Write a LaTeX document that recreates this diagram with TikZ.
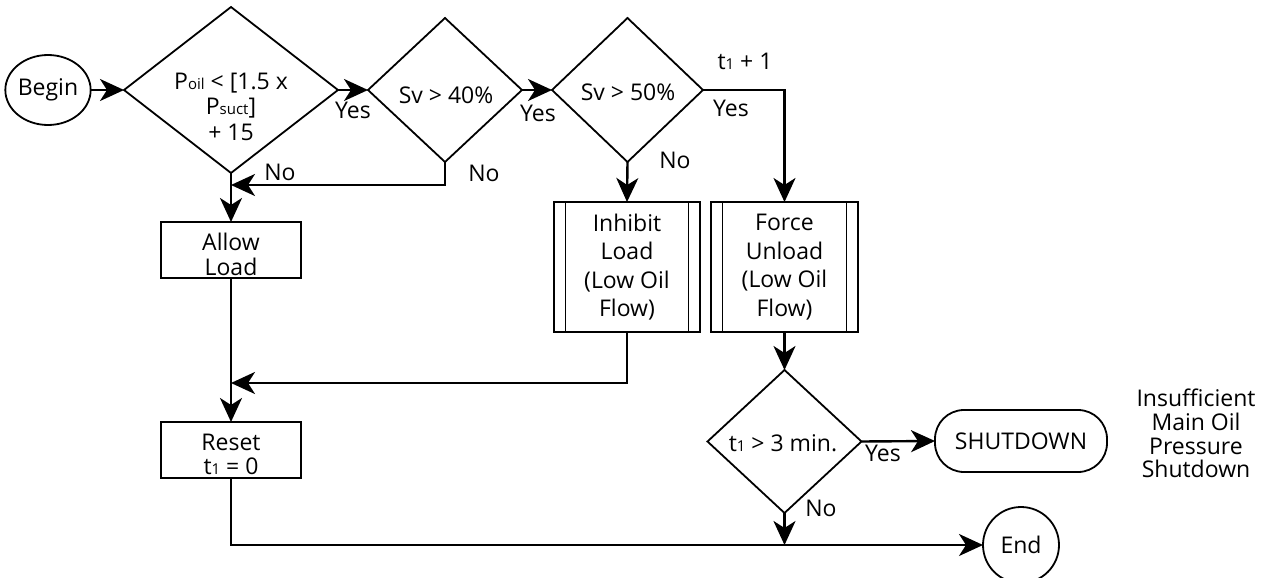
\documentclass[tikz,border=0pt]{standalone}
\usepackage{fontspec}
\setmainfont{Open Sans}
\usetikzlibrary{shapes.geometric,arrows.meta}
\newcommand{\subtx}[1]{{\fontsize{15}{15}\selectfont #1}}
\begin{document}
\begin{tikzpicture}[x=1pt,y=-1pt,
    font=\fontsize{23}{25.5}\selectfont,
    arr/.style={-{Stealth[length=24pt,width=22pt,inset=7pt]},line width=2.4pt},
    frame/.style={draw,line width=1.8pt,inner sep=0pt,outer sep=0pt},
    box/.style={frame,rectangle,minimum width=140pt,minimum height=56pt},
    subbox/.style={frame,rectangle,minimum height=130pt,align=center,font=\fontsize{23}{28.5}\selectfont},
    dia/.style={frame,diamond},
    txt/.style={align=center,inner sep=0pt},
    lbl/.style={anchor=base,inner sep=0pt}]
    \useasboundingbox[fill=white] (0,0) rectangle (1261,578);
    \node[frame,ellipse,minimum width=81pt,minimum height=70pt] (begin) at (48,90) {Begin};
    \node[dia,minimum width=214pt,minimum height=166pt] (q1) at (231,90) {};
    \node[txt] (q1txt) at (231,106.5) {P\subtx{oil} < [1.5 x\\P\subtx{suct}]\\+ 15};
    \node[dia,minimum width=154pt,minimum height=144pt] (q2) at (445,90) {};
    \node[lbl] (q2txt) at (446,103) {Sv > 40\%};
    \node[dia,minimum width=151pt,minimum height=144pt] (q3) at (627.5,90) {};
    \node[lbl] (q3txt) at (628,100) {Sv > 50\%};
    \node[box] (allow) at (231,250) {};
    \node[txt] (allowtxt) at (231,254.5) {Allow\\Load};
    \node[box] (reset) at (231,450) {};
    \node[txt,font=\fontsize{23}{24}\selectfont] (resettxt) at (231,454) {Reset\\t\subtx{1} = 0};
    \node[subbox,minimum width=146pt] (inhibit) at (627,267) {Inhibit\\Load\\(Low Oil\\Flow)};
    \node[subbox,minimum width=147pt] (force) at (784.5,267) {Force\\Unload\\(Low Oil\\Flow)};
    \foreach \n in {inhibit,force}{
        \draw[line width=1.8pt] ([xshift=11.5pt]\n.north west) -- ([xshift=11.5pt]\n.south west);
        \draw[line width=1.8pt] ([xshift=-11.5pt]\n.north east) -- ([xshift=-11.5pt]\n.south east);
    }
    \node[dia,minimum width=154pt,minimum height=143pt] (q4) at (784.5,441.5) {};
    \node[lbl] (q4txt) at (783,451.7) {t\subtx{1} > 3 min.};
    \node[frame,rounded corners=29pt,minimum width=172pt,minimum height=62pt] (shut) at (1021,441) {SHUTDOWN};
    \node[frame,circle,minimum size=76pt] (end) at (1021,545) {End};
    \node[txt,font=\fontsize{23}{23.7}\selectfont] (insuff) at (1196,433.5) {Insufficient\\Main Oil\\Pressure\\Shutdown};
    \coordinate (j1) at (231,185);
    \coordinate (j2) at (231,383);
    \draw[arr] (begin.east) -- (q1.west);
    \draw[arr] (q1.east) -- (q2.west);
    \draw[arr] (q2.east) -- (q3.west);
    \draw[arr] (q3.east) -| (force.north);
    \draw[arr] (q3.south) -- (inhibit.north);
    \draw[arr] (q2.south) |- (j1);
    \draw[arr] (q1.south) -- (allow.north);
    \draw[arr] (inhibit.south) |- (j2);
    \draw[arr] (allow.south) -- (reset.north);
    \draw[arr] (reset.south) |- (end.west);
    \draw[arr] (force.south) -- (q4.north);
    \draw[arr] (q4.east) -- (shut.west);
    \draw[arr] (q4.south) -- (q4.south |- end.west);
    \node[lbl] (yes1) at (353,118) {Yes};
    \node[lbl] (no1) at (280,180) {No};
    \node[lbl] (yes2) at (538,121.7) {Yes};
    \node[lbl] (no2) at (484,181.7) {No};
    \node[lbl] (tinc) at (745,70) {t\subtx{1} + 1};
    \node[lbl] (yes3) at (731,116.7) {Yes};
    \node[lbl] (no3) at (675,168.3) {No};
    \node[lbl] (yes4) at (883,461.7) {Yes};
    \node[lbl] (no4) at (821,516.7) {No};
\end{tikzpicture}
\end{document}
